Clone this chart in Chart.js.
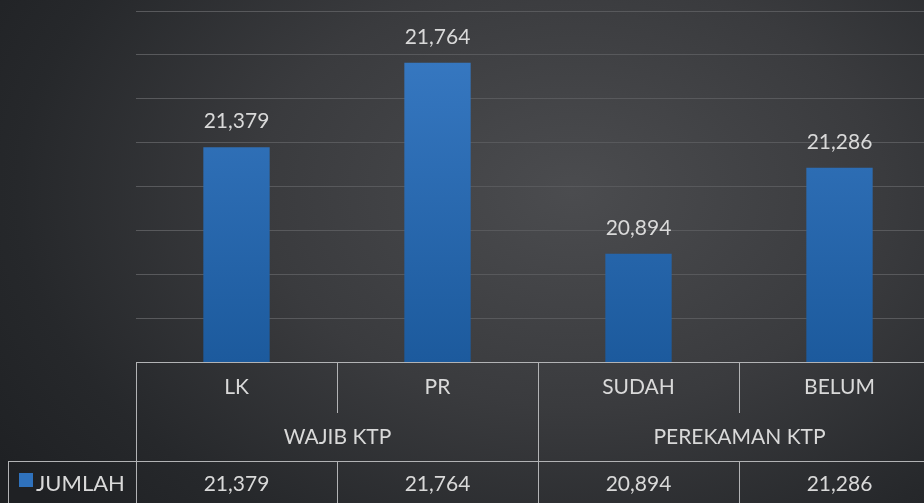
<!DOCTYPE html>
<html>
<head>
<meta charset="utf-8">
<script src="https://cdn.jsdelivr.net/npm/chart.js@4"></script>
<style>
 html,body{margin:0;padding:0;width:924px;height:503px;overflow:hidden;
  background:radial-gradient(ellipse 75% 95% at 62% 38%,#4b4c4f 0%,#3a3b3e 45%,#26282b 80%,#1f2124 100%);}
 canvas{display:block}
</style>
</head>
<body>
<canvas id="ktpChart" width="940" height="503"></canvas>
<script>
const categories=['LK','PR','SUDAH','BELUM'];
const groups=['WAJIB KTP','PEREKAMAN KTP'];
const jumlah=[21379,21764,20894,21286];
const seriesName='JUMLAH';

const font='Lato, "Open Sans", sans-serif';
const txt='#d9d9d9';
const line='#b2b3b5';
const fmt=v=>v.toLocaleString('en-US');

const valueLabels={
 id:'valueLabels',
 afterDatasetsDraw(chart){
  const c=chart.ctx;
  c.save();
  c.font='21px '+font;c.fillStyle=txt;c.textAlign='center';c.textBaseline='bottom';
  chart.getDatasetMeta(0).data.forEach((bar,i)=>c.fillText(fmt(jumlah[i]),bar.x,bar.y-15));
  c.restore();
 }
};

// data table under the plot, Excel style
const dataTable={
 id:'dataTable',
 afterDraw(chart){
  const c=chart.ctx,x=chart.scales.x,a=chart.chartArea;
  const w=a.width/categories.length;
  const top=a.bottom,mid=top+51,row=top+99,bot=chart.height;
  const edge=i=>Math.round(x.getPixelForValue(0)-w/2+i*w)+.5;
  c.save();
  c.strokeStyle=line;c.lineWidth=1;
  c.beginPath();
  c.moveTo(a.left,top+.5);c.lineTo(chart.width,top+.5);
  c.moveTo(8,row+.5);c.lineTo(chart.width,row+.5);
  c.moveTo(8.5,row);c.lineTo(8.5,bot);
  for(let i=0;i<=categories.length;i++){
   const ex=edge(i);
   if(i%2===0){c.moveTo(ex,top);c.lineTo(ex,bot);}
   else{c.moveTo(ex,top);c.lineTo(ex,mid);c.moveTo(ex,row);c.lineTo(ex,bot);}
  }
  c.stroke();
  c.font='21px '+font;c.fillStyle=txt;c.textAlign='center';c.textBaseline='middle';
  categories.forEach((l,i)=>{
   const cx=x.getPixelForValue(i);
   c.fillText(l,cx,top+25);
   c.fillText(fmt(jumlah[i]),cx,row+23);
  });
  groups.forEach((g,j)=>c.fillText(g,(edge(j*2)+edge(j*2+2))/2,top+75));
  c.fillStyle='#2f72bd';c.fillRect(19,row+12,14,14);
  c.fillStyle=txt;c.textAlign='left';
  c.font='22px '+font;
  c.fillText(seriesName,36,row+23);
  c.restore();
 }
};

new Chart(document.getElementById('ktpChart'),{
 type:'bar',
 data:{labels:categories,datasets:[{label:seriesName,data:jumlah,
  backgroundColor:ctx=>{
   const a=ctx.chart.chartArea;
   if(!a) return '#2e6db4';
   const g=ctx.chart.ctx.createLinearGradient(0,a.top,0,a.bottom);
   g.addColorStop(0,'#3a7cc6');g.addColorStop(1,'#1c5a9d');
   return g;
  },
  categoryPercentage:1,barPercentage:.33}]},
 options:{
  responsive:false,animation:false,devicePixelRatio:1,
  layout:{padding:{left:136,top:11,right:0,bottom:141}},
  plugins:{legend:{display:false},tooltip:{enabled:false}},
  scales:{
   x:{display:false},
   y:{min:20400,max:22000,
    ticks:{display:false,stepSize:200},
    grid:{color:'#58595c',drawTicks:false},
    border:{display:false},
    afterFit:s=>{s.width=0}}
  }
 },
 plugins:[valueLabels,dataTable]
});
</script>
</body>
</html>
